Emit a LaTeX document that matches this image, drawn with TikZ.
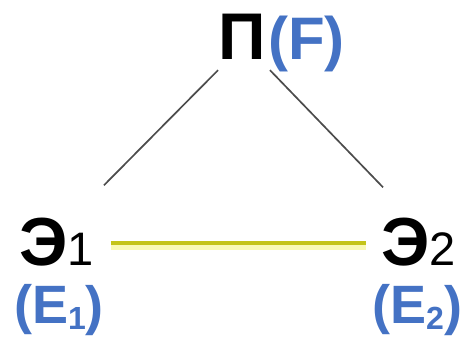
\documentclass[tikz,border=0pt]{standalone}
\usepackage{fontspec}
\setmainfont{Liberation Sans}
\usetikzlibrary{positioning, calc}
\definecolor{cBlue}{RGB}{68,114,196}
\definecolor{cBond}{RGB}{196,196,24}
\definecolor{cGlow}{RGB}{246,246,150}
\tikzset{
	elem/.style  ={inner sep=0pt, anchor=base west, font=\fontsize{68}{72}\selectfont\bfseries},
	trans/.style ={inner sep=0pt, anchor=base west, text=cBlue, font=\fontsize{54}{58}\selectfont\bfseries},
	link/.style  ={line width=1.7pt, draw=black!70},
	bond/.style  ={line width=4pt, draw=cBond},
	glow/.style  ={line width=9pt, draw=cGlow},
}
\newcommand{\idx}[1]{{\fontsize{47}{50}\selectfont\mdseries #1}}
\newcommand{\sub}[1]{\raisebox{-6pt}{\fontsize{32}{34}\selectfont #1}}

\begin{document}
\begin{tikzpicture}[x=1pt, y=1pt]
	\useasboundingbox (0,0) rectangle (462,339);
	% top
	\node[elem, anchor=base, font=\fontsize{66}{70}\selectfont\bfseries] (P) at (242,279) {П};
	\node[trans, font=\fontsize{60}{64}\selectfont\bfseries] (F) at (268,279) {(F)};
	% bottom row
	\node[elem] (E1) at (19,73) {Э\idx{1}};
	\node[elem] (E2) at (381,73) {Э\idx{2}};
	\node[trans] (E1t) at (14,15) {(E\sub{1})};
	\node[trans] (E2t) at (372,15) {(E\sub{2})};
	% connectors
	\draw[link] ([shift={(-24,-10)}]P.south) -- ([shift={(10,33)}]E1.north east);
	\draw[link] ([shift={(28,-10)}]P.south) -- ([shift={(2,31)}]E2.north west);
	\draw[glow, draw opacity=0.7] ([shift={(17,-3)}]E1.east) -- ([shift={(-15,-3)}]E2.west);
	\draw[bond] ([xshift=17]E1.east) -- ([xshift=-15]E2.west);
\end{tikzpicture}
\end{document}
